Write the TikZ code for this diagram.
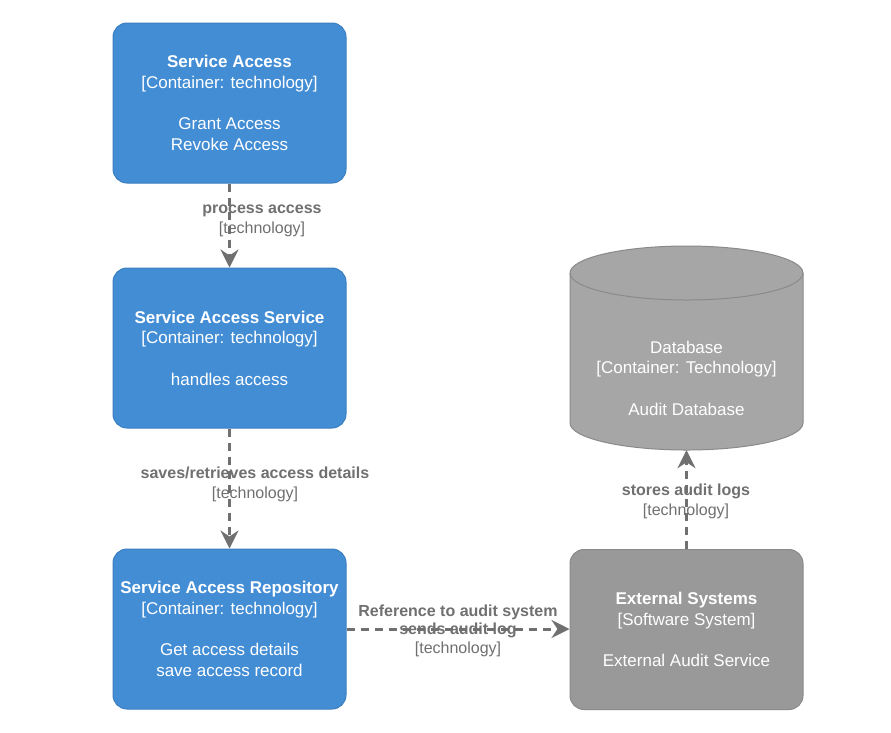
\documentclass[tikz,border=0pt]{standalone}
\usepackage{fontspec}
\setmainfont{Liberation Sans}
\usetikzlibrary{arrows.meta}
\definecolor{bluef}{HTML}{438DD5}
\definecolor{blueb}{HTML}{3C7FC0}
\definecolor{extf}{HTML}{999999}
\definecolor{grayb}{HTML}{8A8A8A}
\definecolor{dbf}{HTML}{A6A6A6}
\definecolor{edgec}{HTML}{707070}
\tikzset{
  boxbase/.style={rectangle, rounded corners=14pt, line width=1pt, minimum width=233pt, minimum height=160pt,
    text=white, align=center, font=\fontsize{17}{20.5}\selectfont, inner sep=0pt},
  container/.style={boxbase, fill=bluef, draw=blueb},
  extsys/.style={boxbase, fill=extf, draw=grayb},
  conn/.style={draw=edgec, line width=3pt, dash pattern=on 8pt off 6pt,
    -{Stealth[length=18pt,width=18pt,inset=6pt]}},
  elabel/.style={text=edgec, align=center, font=\fontsize{16}{20}\selectfont, inner sep=0pt},
}
\begin{document}
\begin{tikzpicture}[x=1pt,y=-1pt]
\path[use as bounding box, fill=white] (0,0) rectangle (891,732);

\node[container] (sa) at (229.5,103) {\textbf{Service Access}\\{}[Container: technology]\\[21pt]Grant Access\\Revoke Access};
\node[container] (sas) at (229.5,348) {\textbf{Service Access Service}\\{}[Container: technology]\\[21pt]handles access};
\node[container] (sar) at (229.5,629) {\textbf{Service Access Repository}\\{}[Container: technology]\\[21pt]Get access details\\save access record};
\node[extsys] (ext) at (686.5,629.5) {\textbf{External Systems}\\{}[Software System]\\[21pt]External Audit Service};

% database cylinder
\path[fill=dbf, draw=grayb, line width=1pt] (570,273) -- (570,423)
  arc[start angle=180, end angle=360, x radius=116.5pt, y radius=27pt] -- (803,273)
  arc[start angle=0, end angle=180, x radius=116.5pt, y radius=27pt] -- cycle;
\draw[grayb, line width=1pt] (570,273) arc[start angle=180, end angle=360, x radius=116.5pt, y radius=27pt];
\node[rectangle, minimum width=233pt, minimum height=204pt, inner sep=0pt] (db) at (686.5,348) {};
\node[text=white, align=center, font=\fontsize{17}{20.5}\selectfont, inner sep=0pt] (dbtext) at (686.5,378)
  {Database\\{}[Container: Technology]\\[21pt]Audit Database};

% connectors
\draw[conn] (sa) -- (sas);
\node[elabel] (l1) at (262,221) {\textbf{process access}\\{}[technology]};
\draw[conn] (sas) -- (sar);
\node[elabel] (l2) at (255,484) {\textbf{saves/retrieves access details}\\{}[technology]};
\draw[conn] (sar) -- (ext.west |- sar.east);
\node[elabel, font=\fontsize{16}{18.5}\selectfont] (l3) at (458,630.5) {\textbf{Reference to audit system}\\\textbf{sends audit log}\\{}[technology]};
\draw[conn] (ext) -- (db.south);
\node[elabel] (l4) at (686,501) {\textbf{stores audit logs}\\{}[technology]};
\end{tikzpicture}
\end{document}
